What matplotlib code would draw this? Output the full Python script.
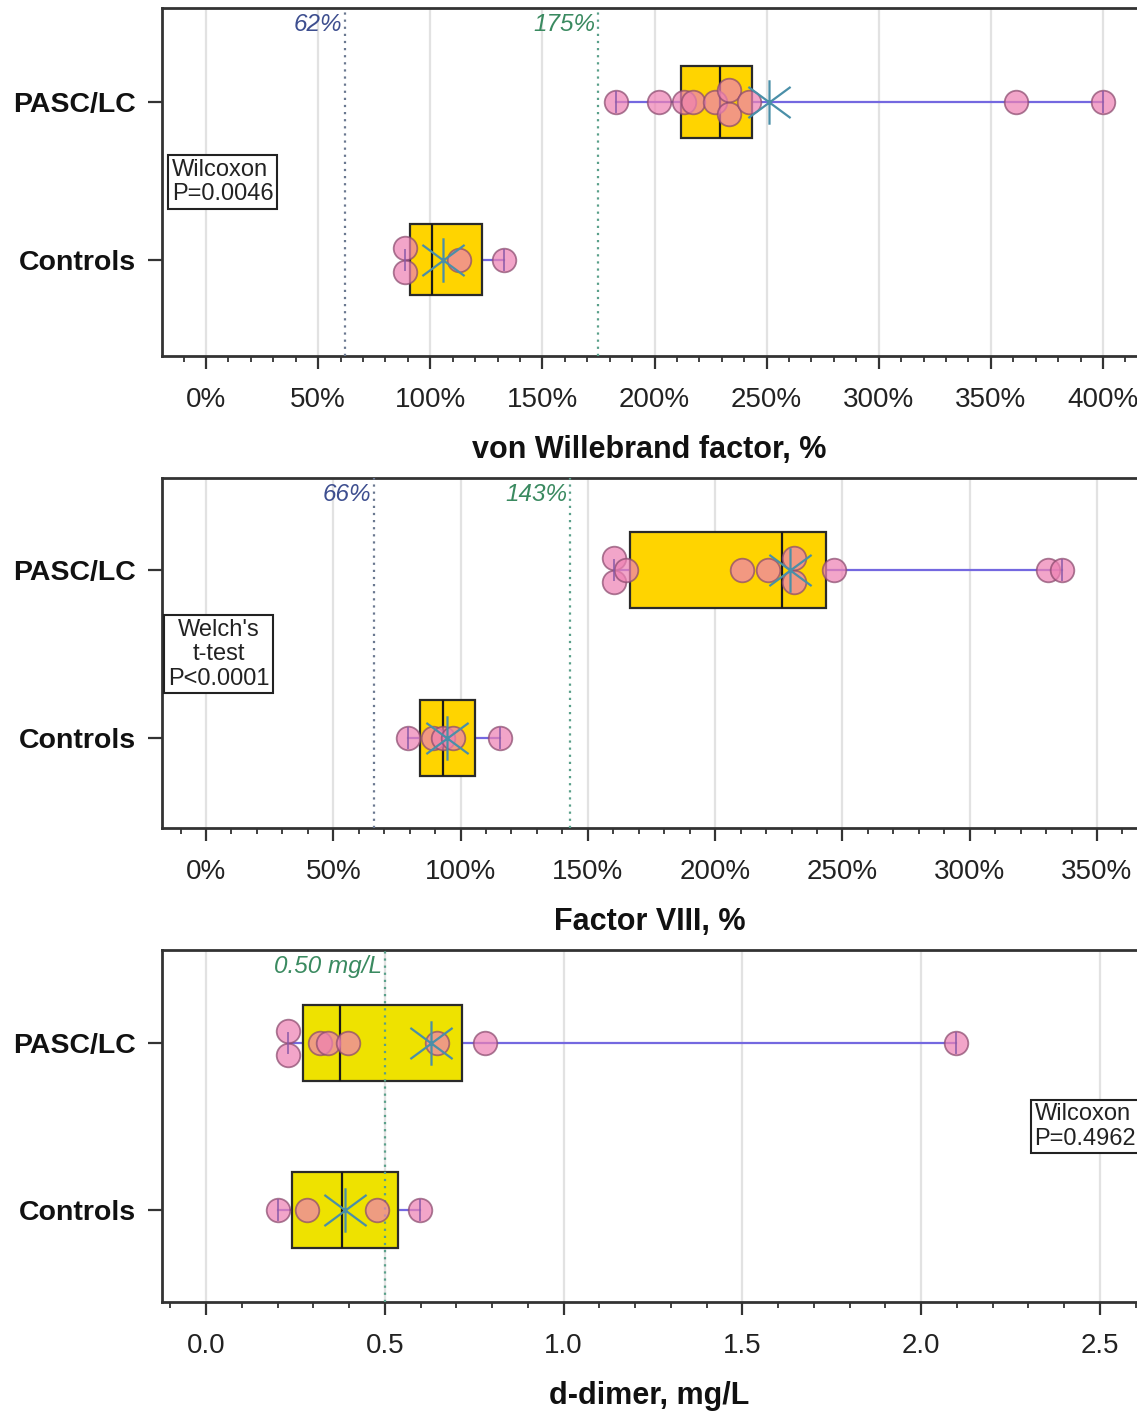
import numpy as np
import matplotlib
matplotlib.use("Agg")
import matplotlib.pyplot as plt
from matplotlib.transforms import blended_transform_factory
from matplotlib.ticker import MultipleLocator
from matplotlib.path import Path

plt.rcParams['font.family'] = ['Liberation Sans', 'DejaVu Sans']

# ---------------- data ----------------
categories = ["Controls", "PASC/LC"]

# von Willebrand factor, %
vwf_controls = [88.7, 88.7, 113.0, 133.0]
vwf_pasc = [183.0, 202.0, 213.0, 217.0, 227.0, 233.0, 233.0, 242.0, 361.0, 400.0]
vwf_q1 = [91.0, 211.8]
vwf_med = [100.8, 229.0]
vwf_q3 = [123.0, 243.5]
vwf_thresholds = [62, 175]
vwf_threshold_labels = ["62%", "175%"]
vwf_ticks = [0, 50, 100, 150, 200, 250, 300, 350, 400]
vwf_ticklabels = ["0%", "50%", "100%", "150%", "200%", "250%", "300%", "350%", "400%"]
vwf_test = "Wilcoxon\nP=0.0046"

# Factor VIII, %
f8_controls = [79.3, 89.0, 93.0, 97.0, 115.5]
f8_pasc = [160.3, 160.3, 165.0, 210.7, 220.6, 231.0, 231.0, 246.5, 330.7, 336.3]
f8_q1 = [84.0, 166.5]
f8_med = [93.1, 226.2]
f8_q3 = [105.7, 243.7]
f8_thresholds = [66, 143]
f8_threshold_labels = ["66%", "143%"]
f8_ticks = [0, 50, 100, 150, 200, 250, 300, 350]
f8_ticklabels = ["0%", "50%", "100%", "150%", "200%", "250%", "300%", "350%"]
f8_test = "Welch's\nt-test\nP<0.0001"

# d-dimer, mg/L
dd_controls = [0.201, 0.282, 0.478, 0.598]
dd_pasc = [0.229, 0.229, 0.319, 0.341, 0.397, 0.646, 0.780, 2.097]
dd_q1 = [0.240, 0.271]
dd_med = [0.380, 0.375]
dd_q3 = [0.537, 0.716]
dd_thresholds = [0.50]
dd_threshold_labels = ["0.50 mg/L"]
dd_ticks = [0.0, 0.5, 1.0, 1.5, 2.0, 2.5]
dd_ticklabels = ["0.0", "0.5", "1.0", "1.5", "2.0", "2.5"]
dd_test = "Wilcoxon\nP=0.4962"

# ---------------- style ----------------
W, H = 1137, 1412
fig = plt.figure(figsize=(W / 100, H / 100), dpi=100)

PT_FACE = '#ee82b4'
PT_EDGE = '#8a4a6e'
WHISK = '#7468e0'
CAP = '#8a5aa8'
MEAN_C = '#4a8fa8'
SPINE = '#333333'
THR_COLORS = ['#6a7890', '#5aa08a']
THR_TEXT = ['#3d4e8f', '#3a8a60']

# mean marker: vertical bar + wide X
MEAN_MARKER = Path(
    [(0, -1), (0, 1), (-0.95, -0.7), (0.95, 0.7), (-0.95, 0.7), (0.95, -0.7)],
    [Path.MOVETO, Path.LINETO, Path.MOVETO, Path.LINETO, Path.MOVETO, Path.LINETO])


def draw_panel(rect, groups, q1, med, q3, box_color, thresholds, thr_labels,
               thr_line_colors, thr_text_colors, ticks, ticklabels, minor,
               xlim, ylim, xlabel, test_text, test_xy, test_ha):
    ax = fig.add_axes(rect)
    ax.set_xlim(*xlim)
    ax.set_ylim(*ylim)
    px_per_unit = H * rect[3] / (ylim[1] - ylim[0])
    dy = 12.0 / px_per_unit
    bw = 0.45
    cap_h = 20.0 / px_per_unit

    ax.grid(axis='x', color='#e2e2e2', lw=1.6, zorder=0)
    ax.set_axisbelow(True)

    for i, vals in enumerate(groups):
        vals = np.asarray(vals, dtype=float)
        lo, hi = vals.min(), vals.max()
        ax.plot([lo, hi], [i, i], color=WHISK, lw=1.6, zorder=2)
        ax.bxp([dict(med=med[i], q1=q1[i], q3=q3[i], whislo=q1[i], whishi=q3[i],
                     fliers=[])],
               positions=[i], widths=bw, vert=False, patch_artist=True,
               showcaps=False, showfliers=False, manage_ticks=False,
               boxprops=dict(facecolor=box_color, edgecolor='#2a2a2a', lw=1.6),
               medianprops=dict(color='#1a1a1a', lw=1.6),
               whiskerprops=dict(lw=0), zorder=3)
        # beeswarm-like offsets for duplicated values
        ys = np.full(len(vals), float(i))
        uniq, counts = np.unique(vals, return_counts=True)
        for u, c in zip(uniq, counts):
            if c > 1:
                idx = np.where(vals == u)[0]
                offs = (np.arange(c) - (c - 1) / 2.0) * 2 * dy
                ys[idx] = i + offs
        ax.plot(vals, ys, 'o', ms=17, mfc=PT_FACE, mec=PT_EDGE, mew=1.3,
                alpha=0.72, zorder=6, ls='none')
        for xe in (lo, hi):
            ax.plot([xe, xe], [i - cap_h / 2, i + cap_h / 2], color=CAP,
                    lw=1.4, zorder=7, alpha=0.8)
        ax.plot([vals.mean()], [i], marker=MEAN_MARKER, ms=32, mec=MEAN_C,
                mew=1.6, zorder=8, ls='none')

    trans = blended_transform_factory(ax.transData, ax.transAxes)
    for t, lab, lc, tc in zip(thresholds, thr_labels, thr_line_colors, thr_text_colors):
        ax.axvline(t, color=lc, ls=(0, (1, 2.2)), lw=1.6, zorder=5)
        ax.annotate(lab, xy=(t, 0.953), xycoords=trans, xytext=(-2, 0),
                    textcoords='offset points', ha='right', va='center',
                    fontsize=17.5, style='italic', color=tc, zorder=9)

    ax.set_xticks(ticks)
    ax.set_xticklabels(ticklabels)
    ax.xaxis.set_minor_locator(MultipleLocator(minor))
    ax.set_yticks([0, 1])
    ax.set_yticklabels(categories, fontweight='bold')
    ax.tick_params(axis='x', which='major', length=9, width=1.6, labelsize=20,
                   pad=13, color=SPINE, labelcolor='#222222')
    ax.tick_params(axis='x', which='minor', length=4.5, width=1.3, color=SPINE)
    ax.tick_params(axis='y', which='major', length=10, width=1.6, labelsize=20.5,
                   pad=9, color=SPINE, labelcolor='#111111')
    ax.set_xlabel(xlabel, fontsize=22, fontweight='bold', labelpad=16, color='#111111')
    for s in ('left', 'bottom', 'top'):
        ax.spines[s].set_linewidth(2.0)
        ax.spines[s].set_color(SPINE)
    ax.spines['right'].set_visible(False)

    ax.text(test_xy[0], test_xy[1], test_text, transform=ax.transAxes,
            ha=test_ha, va='center', multialignment=test_ha, fontsize=17,
            color='#222222', zorder=10, linespacing=1.15,
            bbox=dict(boxstyle='square,pad=0.15', fc='white', ec='#222222', lw=1.5))
    return ax


left = 162 / W
width = 1.0 - left

draw_panel([left, 1 - 356 / H, width, 348 / H],
           [vwf_controls, vwf_pasc], vwf_q1, vwf_med, vwf_q3, '#FFD400',
           vwf_thresholds, vwf_threshold_labels, THR_COLORS, THR_TEXT,
           vwf_ticks, vwf_ticklabels, 10,
           ((162 - 206) / 2.2425, (1137 - 206) / 2.2425), (-0.608, 1.595),
           "von Willebrand factor, %", vwf_test, (0.010, 0.5), 'left')

draw_panel([left, 1 - 828 / H, width, 350 / H],
           [f8_controls, f8_pasc], f8_q1, f8_med, f8_q3, '#FFD400',
           f8_thresholds, f8_threshold_labels, THR_COLORS, THR_TEXT,
           f8_ticks, f8_ticklabels, 10,
           ((162 - 206) / 2.5457, (1137 - 206) / 2.5457), (-0.536, 1.548),
           "Factor VIII, %", f8_test, (0.058, 0.496), 'center')

draw_panel([left, 1 - 1302 / H, width, 352 / H],
           [dd_controls, dd_pasc], dd_q1, dd_med, dd_q3, '#EEE200',
           dd_thresholds, dd_threshold_labels, [THR_COLORS[1]], [THR_TEXT[1]],
           dd_ticks, dd_ticklabels, 0.1,
           ((162 - 206) / 357.6, (1137 - 206) / 357.6), (-0.551, 1.557),
           "d-dimer, mg/L", dd_test, (0.895, 0.499), 'left')

fig.savefig("out.png", dpi=100)
